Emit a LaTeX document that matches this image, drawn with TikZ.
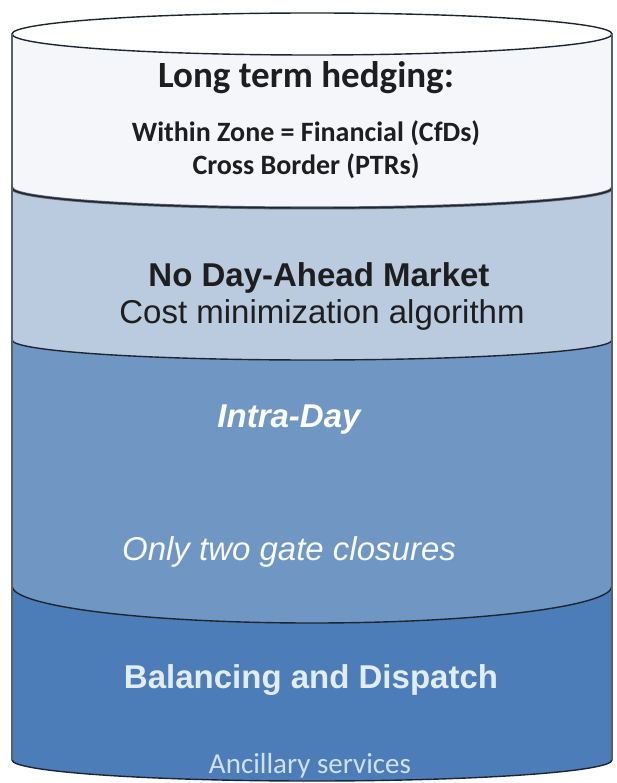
\documentclass[tikz,border=0pt]{standalone}
\usepackage{fontspec}
\newfontfamily\calibri{Carlito}
\newfontfamily\arial{Liberation Sans}
\definecolor{topfill}{HTML}{F4F6FA}
\definecolor{dafill}{HTML}{BACADF}
\definecolor{idfill}{HTML}{7096C4}
\definecolor{bdfill}{HTML}{4C7DB9}
\definecolor{rim}{HTML}{1E2530}
\definecolor{sidegray}{HTML}{5A6068}
\definecolor{darktext}{HTML}{1E1E1E}
\definecolor{paletext}{HTML}{E2ECF6}
\definecolor{faintext}{HTML}{CFE0F0}
\tikzset{
  x=1pt, y=1pt,
  rimline/.style={draw=rim, line width=1.4pt},
  sideline/.style={draw=sidegray, line width=1.6pt},
  label/.style={inner sep=0pt, anchor=center},
}
\begin{document}
\begin{tikzpicture}
\useasboundingbox (0,-783) rectangle (616,0);
\fill[white] (0,-783) rectangle (616,0);

% balancing layer (bottom)
\fill[bdfill] (12,-586) -- (12,-760) arc[start angle=180, end angle=360, x radius=300, y radius=21] -- (612,-586) -- cycle;
\draw[rimline] (12,-760) arc[start angle=180, end angle=360, x radius=300, y radius=21];

% intra-day layer
\fill[idfill] (12,-340) -- (12,-586) arc[start angle=180, end angle=360, x radius=300, y radius=37] -- (612,-340) -- cycle;
\draw[rimline] (12,-586) arc[start angle=180, end angle=360, x radius=300, y radius=37];

% day-ahead layer
\fill[dafill] (12,-188) -- (12,-340) arc[start angle=180, end angle=360, x radius=300, y radius=20] -- (612,-188) -- cycle;
\draw[rimline] (12,-340) arc[start angle=180, end angle=360, x radius=300, y radius=20];

% hedging layer with the open top
\fill[topfill] (12,-34) -- (12,-188) arc[start angle=180, end angle=360, x radius=300, y radius=20] -- (612,-34) -- cycle;
\draw[draw=rim!70, line width=3pt] (12,-188) arc[start angle=180, end angle=360, x radius=300, y radius=20];
\draw[rimline] (12,-188) arc[start angle=180, end angle=360, x radius=300, y radius=20];
\filldraw[fill=white, draw=rim, line width=1.4pt] (312,-34) ellipse[x radius=300, y radius=21];

% cylinder walls
\draw[sideline] (12,-34) -- (12,-760);
\draw[sideline] (612,-34) -- (612,-760);

% texts
\node[label, text=darktext, font=\calibri\bfseries\fontsize{37}{40}\selectfont] (hedge) at (306,-78) {Long term hedging:};
\node[label, text=darktext, font=\calibri\bfseries\fontsize{28}{30}\selectfont] (zone) at (306,-133) {Within Zone = Financial (CfDs)};
\node[label, text=darktext, font=\calibri\bfseries\fontsize{28}{30}\selectfont] (border) at (306,-166) {Cross Border (PTRs)};
\node[label, text=darktext, font=\arial\bfseries\fontsize{33}{36}\selectfont] (dam) at (319,-278) {No Day-Ahead Market};
\node[label, text=darktext, font=\arial\fontsize{33}{36}\selectfont] (cost) at (322,-315) {Cost minimization algorithm};
\node[label, text=white, font=\arial\bfseries\itshape\fontsize{33}{36}\selectfont] (intra) at (289,-420) {Intra-Day};
\node[label, text=white!95!idfill, font=\arial\itshape\fontsize{33}{36}\selectfont] (gates) at (289,-552) {Only two gate closures};
\node[label, text=paletext, font=\arial\bfseries\fontsize{33}{36}\selectfont] (bal) at (311,-680) {Balancing and Dispatch};
\node[label, text=faintext, font=\calibri\fontsize{29}{32}\selectfont] (anc) at (310,-766) {Ancillary services};
\end{tikzpicture}
\end{document}
